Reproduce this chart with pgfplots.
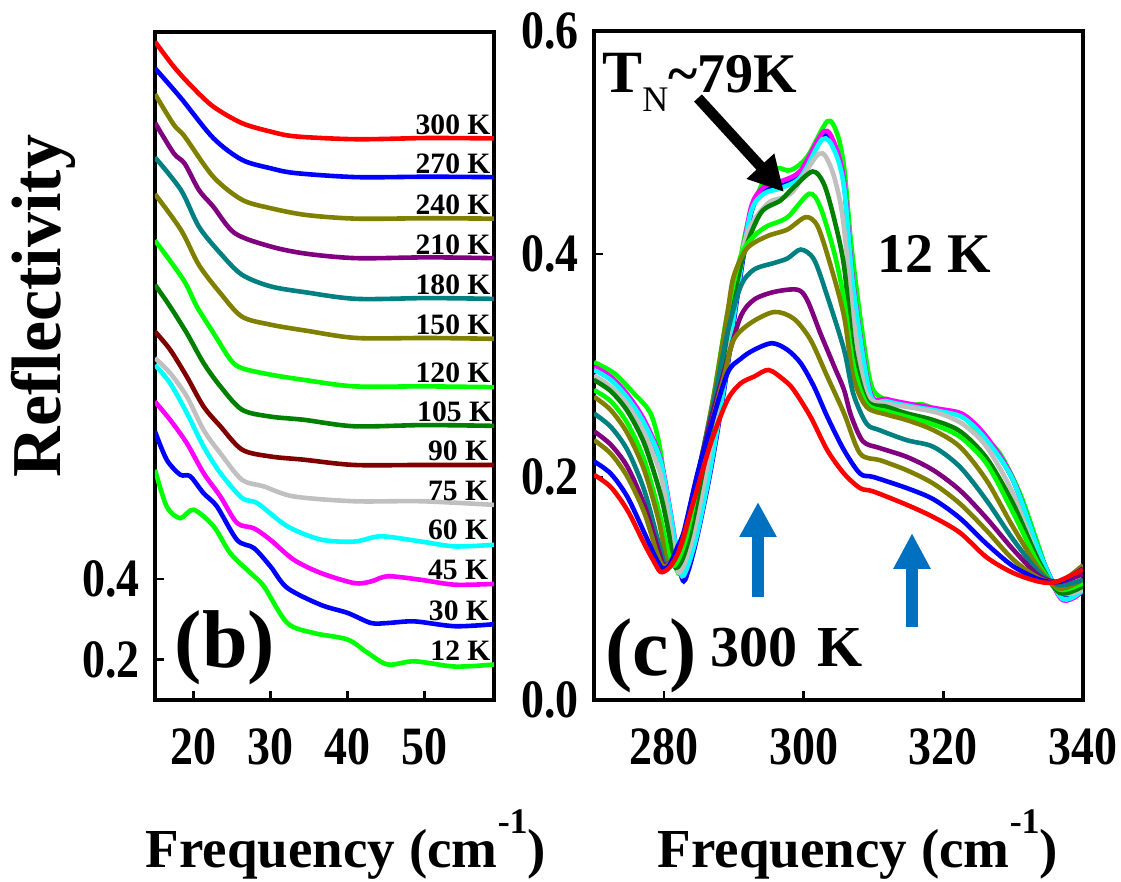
\documentclass[border=0pt]{standalone}
\usepackage{fontspec}
\setmainfont{Liberation Serif}
\newfontfamily\ticfont{Liberation Serif}[FakeStretch=0.85]
\usepackage{pgfplots}
\pgfplotsset{compat=1.18}
\usetikzlibrary{arrows.meta}
\definecolor{cR}{HTML}{FF0000}
\definecolor{cB}{HTML}{0000FF}
\definecolor{cOl}{HTML}{808000}
\definecolor{cPu}{HTML}{800080}
\definecolor{cTe}{HTML}{008080}
\definecolor{cGr}{HTML}{00FF00}
\definecolor{cDg}{HTML}{008000}
\definecolor{cMa}{HTML}{800000}
\definecolor{cSi}{HTML}{C0C0C0}
\definecolor{cCy}{HTML}{00FFFF}
\definecolor{cMg}{HTML}{FF00FF}
\definecolor{arrowblue}{HTML}{0070C0}
\newcommand{\fs}[1]{\fontsize{#1}{#1}\selectfont}
\pgfplotsset{
  myax/.style={
    scale only axis, anchor=south west,
    tick align=inside, tick pos=left,
    major tick length=4.5pt,
    axis line style={line width=1.6pt},
    every tick/.style={black, line width=1.3pt},
    /pgf/number format/assume math mode=true,
    ticklabel style={font=\ticfont\bfseries\fs{27}},
    xticklabel style={yshift=-11pt},
    yticklabel style={xshift=-4pt, /pgf/number format/fixed, /pgf/number format/fixed zerofill, /pgf/number format/precision=1},
    every axis plot/.append style={line width=2.3pt, smooth},
  },
}
\tikzset{blab/.style={anchor=base east, inner sep=0pt, font=\bfseries\fs{14.8}}}
\begin{document}
\begin{tikzpicture}
\path[use as bounding box] (0pt,0pt) rectangle (560.5pt,-441pt);

% ---------------- panel (b) ----------------
\begin{axis}[myax, at={(77.5pt,-350pt)}, width=169.5pt, height=334pt,
  xmin=15, xmax=59, ymin=0.1, ymax=1.757,
  xtick={20,30,40,50}, ytick={0.2,0.4}]
\addplot[cR] coordinates {(15,1.733)(17.44,1.671)(19.77,1.622)(22.56,1.572)(26.28,1.531)(30,1.510)(33.26,1.498)(41.16,1.491)(50.47,1.494)(59,1.493)};
\addplot[cB] coordinates {(15,1.667)(18.37,1.593)(22.56,1.494)(26.28,1.440)(30,1.419)(33.26,1.407)(41.16,1.397)(50.47,1.398)(59,1.397)};
\addplot[cOl] coordinates {(15,1.603)(17.44,1.527)(18.84,1.498)(22.56,1.398)(26.28,1.341)(30,1.320)(34.65,1.303)(41.16,1.294)(50.47,1.295)(59,1.294)};
\addplot[cPu] coordinates {(15,1.532)(17.44,1.456)(18.84,1.431)(20.70,1.365)(22.56,1.324)(25.35,1.258)(30,1.225)(34.65,1.207)(41.16,1.196)(50.47,1.198)(59,1.196)};
\addplot[cTe] coordinates {(15,1.446)(18.37,1.365)(20.70,1.274)(23.49,1.208)(26.28,1.155)(30,1.126)(34.65,1.111)(41.16,1.095)(50.47,1.097)(59,1.095)};
\addplot[cOl] coordinates {(15,1.355)(18.37,1.266)(20.70,1.179)(23.49,1.109)(26.28,1.051)(30,1.031)(34.65,1.016)(41.16,0.998)(50.47,0.998)(59,0.996)};
\addplot[cGr] coordinates {(15,1.240)(18.7,1.142)(20.43,1.076)(22.6,1.010)(24.8,0.944)(26.3,0.923)(30,0.907)(34.35,0.894)(40.87,0.878)(50,0.878)(59,0.876)};
\addplot[cDg] coordinates {(15,1.130)(16.96,1.076)(19.13,1.010)(21.3,0.936)(23.48,0.878)(26.3,0.820)(30,0.803)(34.35,0.795)(40.87,0.779)(50,0.782)(59,0.780)};
\addplot[cMa] coordinates {(15,1.014)(16.96,0.969)(19.13,0.902)(21.3,0.828)(23.48,0.779)(26.3,0.721)(30,0.704)(34.35,0.696)(40.87,0.683)(49.57,0.683)(59,0.683)};
\addplot[cSi] coordinates {(15,0.948)(16.96,0.911)(19.13,0.853)(21.3,0.770)(23.48,0.712)(26.3,0.646)(29.1,0.630)(33,0.605)(40.87,0.593)(49.57,0.593)(59,0.584)};
\addplot[cCy] coordinates {(15,0.931)(16.96,0.886)(19.13,0.812)(21.3,0.729)(23.48,0.663)(26.3,0.601)(28.3,0.588)(32.17,0.531)(36.52,0.498)(40.87,0.493)(44.35,0.506)(49.57,0.493)(53.91,0.481)(59,0.485)};
\addplot[cMg] coordinates {(15,0.840)(16.96,0.795)(19.13,0.737)(21.3,0.663)(23.48,0.605)(25.65,0.539)(27.83,0.526)(30,0.497)(33,0.448)(36.52,0.415)(40.87,0.390)(43.04,0.394)(45.22,0.407)(49.57,0.398)(53.91,0.386)(59,0.388)};
\addplot[cB] coordinates {(15,0.766)(16.52,0.696)(18.26,0.659)(19.57,0.655)(21.3,0.613)(23.04,0.580)(25.65,0.497)(27.83,0.477)(30,0.431)(32.17,0.378)(36.52,0.336)(40,0.316)(43.04,0.291)(45.22,0.291)(48.7,0.295)(53.91,0.283)(59,0.288)};
\addplot[cGr] coordinates {(15,0.671)(16.52,0.580)(18.26,0.551)(20,0.572)(22.6,0.531)(24.78,0.464)(27.4,0.415)(29.13,0.382)(32.17,0.291)(35.65,0.266)(40,0.250)(42.6,0.217)(45.22,0.188)(48.7,0.196)(53.91,0.183)(59,0.188)};
\node[blab] at (axis cs:58.6,1.503) {300 K};
\node[blab] at (axis cs:58.6,1.407) {270 K};
\node[blab] at (axis cs:58.6,1.304) {240 K};
\node[blab] at (axis cs:58.6,1.206) {210 K};
\node[blab] at (axis cs:58.6,1.105) {180 K};
\node[blab] at (axis cs:58.6,1.006) {150 K};
\node[blab] at (axis cs:58.6,0.888) {120 K};
\node[blab] at (axis cs:58.8,0.790) {105 K};
\node[blab] at (axis cs:58.3,0.693) {90 K};
\node[blab] at (axis cs:58.3,0.596) {75 K};
\node[blab] at (axis cs:58.3,0.497) {60 K};
\node[blab] at (axis cs:58.3,0.398) {45 K};
\node[blab] at (axis cs:58.4,0.298) {30 K};
\node[blab] at (axis cs:58.6,0.197) {12 K};
\end{axis}

% ---------------- panel (c) ----------------
\begin{axis}[myax, at={(297pt,-350pt)}, width=244.5pt, height=334.5pt,
  xmin=270, xmax=340, ymin=0, ymax=0.6,
  xtick={280,300,320,340}, ytick={0,0.2,0.4,0.6}]
% 12 K
\addplot[cGr] coordinates {(270,0.303)(272.9,0.293)(275.7,0.275)(278.1,0.257)(279.5,0.224)(280.7,0.164)(281.7,0.120)(282.5,0.112)(283.3,0.118)(284.3,0.140)(286.2,0.203)(288.1,0.278)(290,0.359)(291.9,0.425)(294.3,0.466)(296.2,0.477)(298.1,0.475)(300.5,0.487)(303.4,0.519)(304.8,0.508)(305.8,0.478)(306.8,0.410)(308.1,0.344)(309.5,0.287)(310.9,0.272)(314.8,0.265)(317.1,0.265)(319.5,0.259)(322.4,0.256)(325.3,0.239)(328.1,0.221)(331,0.185)(333.8,0.135)(335.7,0.102)(338.1,0.096)(340,0.108)};
% 30 K
\addplot[cB] coordinates {(270,0.297)(272.4,0.288)(274.8,0.272)(277.2,0.249)(279.5,0.214)(281,0.163)(282.6,0.109)(283.5,0.116)(284.9,0.150)(286.8,0.209)(288.7,0.281)(290.6,0.365)(292.5,0.437)(294.3,0.456)(296.7,0.461)(299.6,0.472)(302.8,0.507)(304.5,0.496)(305.8,0.462)(307.1,0.372)(309.5,0.276)(311.9,0.269)(315.7,0.264)(319.5,0.260)(322.9,0.254)(326.2,0.234)(330,0.197)(333.8,0.132)(336.7,0.094)(338.5,0.093)(340,0.102)};
% 45 K
\addplot[cMg] coordinates {(270,0.299)(272.4,0.290)(274.8,0.274)(277.2,0.251)(279.5,0.217)(281,0.167)(282.4,0.114)(283.3,0.118)(284.8,0.150)(286.7,0.209)(288.6,0.281)(290.5,0.366)(292.4,0.440)(294.3,0.460)(296.7,0.465)(299.6,0.475)(302.9,0.510)(304.5,0.498)(305.8,0.465)(307.1,0.374)(309.5,0.277)(311.9,0.270)(315.7,0.265)(319.5,0.261)(322.9,0.256)(326.2,0.236)(330,0.198)(333.8,0.131)(336.7,0.092)(338.5,0.091)(340,0.098)};
% 60 K
\addplot[cCy] coordinates {(270,0.296)(272.4,0.287)(274.8,0.271)(277.2,0.248)(279.5,0.215)(281,0.165)(282.4,0.114)(283.3,0.118)(284.8,0.150)(286.7,0.209)(288.6,0.281)(290.5,0.365)(292.4,0.436)(294.3,0.454)(296.7,0.459)(299.6,0.469)(302.7,0.503)(304.4,0.493)(305.8,0.460)(307.1,0.371)(309.5,0.275)(311.9,0.268)(315.7,0.263)(319.5,0.259)(322.9,0.253)(326.2,0.233)(330,0.197)(333.8,0.132)(336.7,0.093)(338.5,0.092)(340,0.099)};
% 75 K
\addplot[cSi] coordinates {(270,0.291)(272.4,0.281)(274.8,0.265)(277.2,0.239)(279.5,0.203)(280.8,0.160)(281.9,0.117)(282.8,0.120)(284.3,0.150)(286.2,0.209)(288.1,0.281)(290,0.359)(291.9,0.418)(294.8,0.445)(296.7,0.450)(298.6,0.457)(302.2,0.490)(303.9,0.478)(305.3,0.445)(306.2,0.400)(307.1,0.344)(309,0.275)(311.9,0.266)(315.7,0.262)(319.5,0.257)(322.9,0.247)(326.2,0.227)(330,0.185)(333.8,0.123)(336.7,0.096)(340,0.099)};
% 105 K
\addplot[cDg] coordinates {(270,0.287)(272.4,0.277)(274.8,0.259)(277.2,0.230)(279.5,0.185)(280.7,0.150)(281.5,0.120)(282.5,0.124)(283.8,0.150)(285.7,0.209)(287.7,0.275)(289.6,0.347)(291.5,0.401)(293.9,0.437)(296.7,0.448)(298.6,0.460)(301.3,0.474)(302.9,0.463)(304.4,0.431)(305.8,0.389)(307.1,0.314)(309,0.269)(311.9,0.263)(314.8,0.257)(318.6,0.251)(322.4,0.241)(326.2,0.217)(330,0.176)(333.8,0.123)(336.7,0.096)(340,0.102)};
% 120 K
\addplot[cGr] coordinates {(270,0.278)(272.4,0.268)(274.8,0.248)(277.2,0.215)(279.5,0.164)(281,0.123)(282,0.125)(283.4,0.150)(285.3,0.209)(287.2,0.275)(289.1,0.347)(291,0.398)(292.9,0.416)(294.8,0.425)(297.7,0.433)(300.8,0.454)(302.4,0.442)(304.4,0.401)(305.8,0.359)(307.1,0.302)(309,0.266)(311.9,0.259)(314.8,0.254)(318.6,0.247)(322.4,0.236)(326.2,0.212)(330,0.168)(333.8,0.120)(336.7,0.099)(340,0.105)};
% 150 K
\addplot[cOl] coordinates {(270,0.272)(272.4,0.260)(274.8,0.239)(277.2,0.206)(279.3,0.160)(280.5,0.123)(281.7,0.128)(283.1,0.150)(285.3,0.215)(287.2,0.275)(289.1,0.347)(290,0.380)(291.9,0.405)(294.8,0.416)(297.7,0.422)(300.3,0.433)(302,0.425)(303.9,0.389)(305.8,0.344)(307.1,0.290)(309,0.263)(311.9,0.256)(314.8,0.251)(318.6,0.242)(322.4,0.227)(326.2,0.197)(330,0.155)(333.8,0.117)(336.7,0.100)(340,0.108)};
% 180 K
\addplot[cTe] coordinates {(270,0.257)(272.4,0.245)(274.8,0.224)(277.2,0.188)(279.3,0.140)(280.3,0.121)(281.5,0.128)(283.1,0.153)(285.3,0.215)(287.2,0.269)(289.1,0.329)(291,0.371)(292.9,0.386)(295.8,0.392)(297.7,0.396)(299.6,0.404)(301.5,0.395)(303.4,0.362)(305.8,0.314)(307.1,0.275)(309,0.248)(310.9,0.242)(314.8,0.233)(318.6,0.227)(322.4,0.209)(326.2,0.179)(330,0.144)(333.8,0.114)(336.7,0.103)(340,0.108)};
% 210 K
\addplot[cPu] coordinates {(270,0.241)(272.4,0.229)(274.8,0.209)(277.2,0.175)(279.2,0.135)(280,0.121)(281.2,0.126)(282.9,0.150)(284.8,0.200)(286.7,0.251)(289.1,0.305)(291,0.344)(292.9,0.359)(295.8,0.366)(299.1,0.368)(300.5,0.359)(302.4,0.329)(304.4,0.299)(305.8,0.278)(306.8,0.255)(308.5,0.232)(310.9,0.226)(314.8,0.218)(318.6,0.206)(322.4,0.188)(326.2,0.163)(330,0.135)(333.8,0.111)(336.7,0.106)(340,0.113)};
% 240 K
\addplot[cOl] coordinates {(270,0.233)(272.4,0.221)(274.8,0.200)(277.2,0.168)(279,0.132)(279.9,0.120)(281,0.124)(282.9,0.150)(284.3,0.188)(286.7,0.245)(288.6,0.290)(290,0.323)(292.4,0.338)(295.8,0.348)(298.6,0.342)(301,0.323)(303.4,0.290)(305.8,0.257)(308.1,0.221)(311,0.215)(314.8,0.206)(318.6,0.194)(322.4,0.176)(326.2,0.152)(330,0.126)(333.8,0.109)(336.7,0.106)(340,0.121)};
% 270 K
\addplot[cB] coordinates {(270,0.214)(272.4,0.203)(274.8,0.182)(277.2,0.150)(278.8,0.128)(279.8,0.118)(280.8,0.121)(282,0.138)(282.9,0.152)(284.8,0.203)(286.7,0.245)(289.1,0.293)(291,0.306)(292.9,0.314)(295.5,0.320)(297.7,0.314)(299.6,0.302)(301.5,0.281)(303.4,0.254)(305.8,0.224)(308.1,0.203)(310,0.200)(314.8,0.190)(318.6,0.180)(322.4,0.163)(326.2,0.140)(330,0.120)(333.8,0.108)(336.7,0.106)(340,0.118)};
% 300 K
\addplot[cR] coordinates {(270,0.202)(272.4,0.191)(274.8,0.170)(277.2,0.140)(278.5,0.125)(279.5,0.115)(280.5,0.117)(281.5,0.125)(282.4,0.138)(284.3,0.179)(286.7,0.230)(289.1,0.269)(291,0.284)(292.9,0.290)(295,0.296)(297.2,0.287)(298.6,0.278)(301,0.254)(303.4,0.224)(305.8,0.203)(308.1,0.190)(310,0.187)(314.8,0.175)(318.6,0.164)(322.4,0.150)(326.2,0.128)(330,0.114)(333.8,0.106)(336.2,0.106)(340,0.117)};
\end{axis}

% ---------------- annotations ----------------
\begin{scope}[x=0.5pt,y=-0.5pt]
\node[rotate=90, font=\bfseries\fs{35}] at (43,306) {Reflectivity};
\node[anchor=base, font=\bfseries\fs{27.5}] at (346,867) {Frequency (cm\raisebox{17pt}{\fs{18}-1})};
\node[anchor=base, font=\bfseries\fs{27.5}] at (858,867) {Frequency (cm\raisebox{17pt}{\fs{18}-1})};
\node[font=\bfseries\fs{41}, inner sep=0pt] at (225,648) {(b)};
\node[font=\bfseries\fs{41}, inner sep=0pt] at (651,656) {(c)};
\node[anchor=base west, inner sep=0pt, font=\bfseries\fs{29}] at (710,667) {300\hspace{0.35em}K};
\node[anchor=base west, inner sep=0pt, font=\bfseries\fs{28}] at (877,273) {12 K};
\node[anchor=base west, inner sep=0pt] at (602,93) {{\bfseries\fs{30}T}\raisebox{-9.5pt}{\fs{18}N}{\bfseries\fs{28}\textasciitilde 79K}};
\draw[black, line width=5.3pt, -{Triangle[length=17.5pt,width=17.5pt]}] (698,98) -- (784,192);
\draw[arrowblue, line width=6pt, -{Triangle[length=17.5pt,width=17.5pt]}] (758,597) -- (758,502);
\draw[arrowblue, line width=6pt, -{Triangle[length=18pt,width=17.5pt]}] (912,627) -- (912,533);
\end{scope}
\end{tikzpicture}
\end{document}
